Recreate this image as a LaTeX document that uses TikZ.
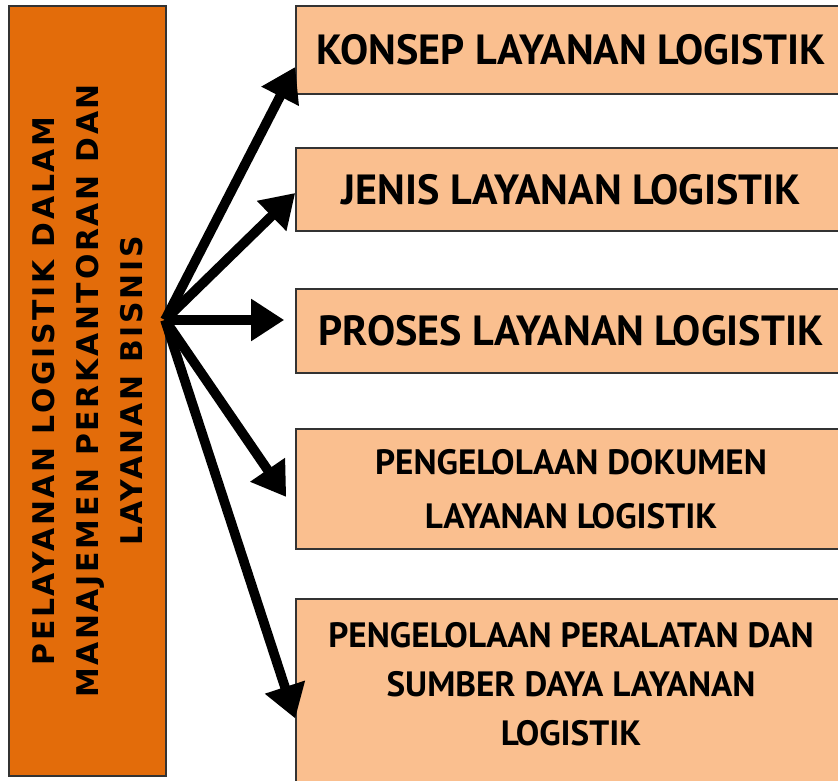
\documentclass[tikz,border=0pt]{standalone}
\usepackage{fontspec}
\setmainfont{PT Sans}
\newfontfamily\sidefont[LetterSpace=9]{DejaVu Sans}
\usetikzlibrary{arrows.meta,positioning,calc}

\definecolor{mainorange}{HTML}{E36C0A}
\definecolor{topicorange}{HTML}{FABF8F}

\begin{document}
\begin{tikzpicture}[
        topicbox/.style={draw=black!80,line width=0.9pt,fill=topicorange,minimum width=11cm,align=center},
        bigarrow/.style={-{Triangle[length=0.66cm,width=0.8cm]},line width=5.5pt}
    ]
            \useasboundingbox (0,0) rectangle (16.76,15.62);

            % Left side main box (rotated text)
            \node[draw=black!80,line width=0.9pt,fill=mainorange,rotate=90,minimum width=15.4cm,minimum height=3.14cm,align=center,font=\sidefont\bfseries\fontsize{17}{25}\selectfont] (main) at (1.75,7.8) {PELAYANAN LOGISTIK DALAM\\MANAJEMEN PERKANTORAN DAN\\LAYANAN BISNIS};

            % Right side topic boxes
            \node[topicbox,minimum height=1.76cm,font=\bfseries\fontsize{24}{28}\selectfont] (konsep) at (11.42,14.62) {KONSEP LAYANAN LOGISTIK};
            \node[topicbox,minimum height=1.66cm,font=\bfseries\fontsize{24}{28}\selectfont] (jenis) at (11.42,11.83) {JENIS LAYANAN LOGISTIK};
            \node[topicbox,minimum height=1.68cm,font=\bfseries\fontsize{24}{28}\selectfont] (proses) at (11.42,9.0) {PROSES LAYANAN LOGISTIK};
            \node[topicbox,minimum height=2.4cm,font=\bfseries\fontsize{20}{31}\selectfont] (dokumen) at (11.42,5.84) {PENGELOLAAN DOKUMEN\\LAYANAN LOGISTIK};
            \node[topicbox,minimum height=3.94cm] (peralatan) at (11.42,1.67) {};
            \node[align=center,font=\bfseries\fontsize{20}{28}\selectfont] (peralatanText) at (11.42,1.94) {PENGELOLAAN PERALATAN DAN\\SUMBER DAYA LAYANAN\\LOGISTIK};

            % Arrows from the main box
            \coordinate (hub) at (3.3,9.22);
            \draw[bigarrow] (hub) -- ([yshift=-0.34cm]konsep.west);
            \draw[bigarrow] (hub) -- ([yshift=-0.07cm]jenis.west);
            \draw[bigarrow] (hub) -- ([xshift=-0.22cm]hub -| proses.west);
            \draw[bigarrow] (hub) -- ([xshift=-0.18cm,yshift=-0.16cm]dokumen.west);
            \draw[bigarrow] (hub) -- ([yshift=-0.42cm]peralatan.west);

        \end{tikzpicture}
\end{document}
